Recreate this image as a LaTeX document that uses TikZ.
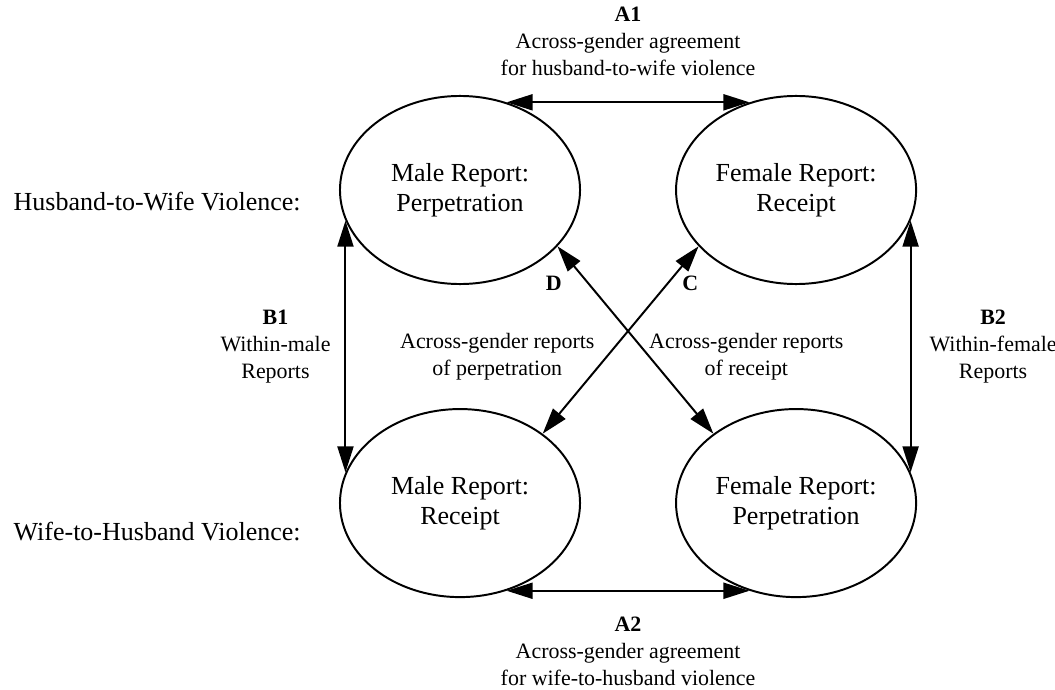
\documentclass[tikz,border=0pt]{standalone}
\usepackage{fontspec}
\setmainfont{Liberation Serif}
\usepackage{tikz}
\usetikzlibrary{shapes}
\usetikzlibrary{arrows.meta, positioning}

\tikzset{
  oval/.style={ellipse, draw, line width=1.4pt, minimum width=6cm, minimum height=4.7cm,
    inner sep=0pt, align=center, font=\fontsize{18.5}{21.3}\selectfont},
  lbl/.style={align=center, inner sep=0pt, font=\fontsize{15.6}{19.2}\selectfont},
  side/.style={inner sep=0pt, font=\fontsize{18.5}{21.3}\selectfont},
  dbl/.style={{Triangle[length=0.65cm,width=0.4cm]}-{Triangle[length=0.65cm,width=0.4cm]}, line width=1.4pt}
}

\begin{document}
\begin{tikzpicture}[x=0.025cm, y=-0.025cm, node distance=8.4cm]
            \useasboundingbox (0,0) rectangle (1055,690);
            \node[oval] (1) at (460,190) {Male Report:\\Perpetration};
            \node[oval] (2) [right of=1] {Female Report:\\Receipt};
            \node[oval] (3) [below of=1, node distance=7.825cm] {Male Report:\\Receipt};
            \node[oval] (4) [right of=3] {Female Report:\\Perpetration};
            \node[side] (5) [left=0.95cm of 1, yshift=-0.28cm] {Husband-to-Wife Violence:};
            \node[side] (6) [left=0.95cm of 3, yshift=-0.7cm] {Wife-to-Husband Violence:};
            \draw[dbl] (1.62) -- node[lbl, above=0.65cm] {\textbf{A1}\\Across-gender agreement\\for husband-to-wife violence} (2.118);
            \draw[dbl] (3.-62) -- node[lbl, below=0.64cm] {\textbf{A2}\\Across-gender agreement\\for wife-to-husband violence} (4.-118);
            \draw[dbl] (1.195) -- node[lbl, left=0.35cm] {\textbf{B1}\\Within-male\\Reports} (3.165);
            \draw[dbl] (2.-15) -- node[lbl, right=0.45cm] {\textbf{B2}\\Within-female\\Reports} (4.15);
            \draw[dbl] (1.-30) -- node[lbl, pos=0.2, left=0.65cm] {\textbf{D}} node[lbl, pos=0.59, left=1.35cm] {Across-gender reports\\of perpetration} (4.140);
            \draw[dbl] (2.-150) -- node[lbl, pos=0.2, right=0.35cm] {\textbf{C}} node[lbl, pos=0.59, right=1.04cm] {Across-gender reports\\of receipt} (3.40);
        \end{tikzpicture}
\end{document}
